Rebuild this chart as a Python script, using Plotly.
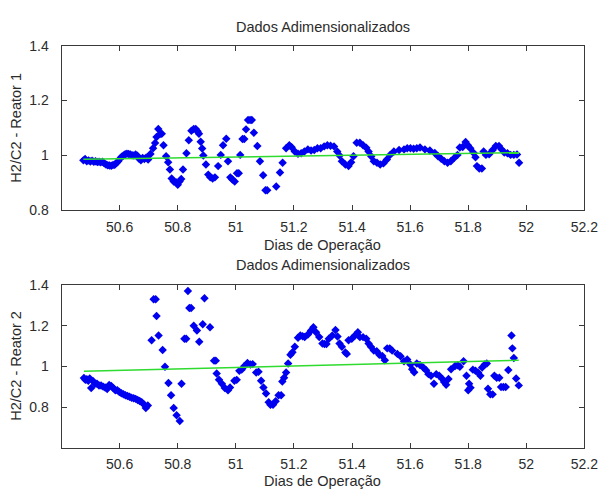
import plotly.graph_objects as go

# Reator 1 (top)
r1_x = [50.475,50.481,50.487,50.493,50.499,50.505,50.511,50.517,50.523,50.529,50.535,50.541,50.547,50.553,50.559,50.565,50.571,50.577,50.583,50.589,50.595,50.601,50.607,50.613,50.619,50.625,50.631,50.637,50.643,50.649,50.655,50.661,50.667,50.673,50.679,50.685,50.691,50.698,
        50.706,50.715,50.722,50.727,50.733,50.739,50.745,50.751,50.760,50.767,50.773,50.779,50.786,50.794,50.800,50.806,50.812,50.818,50.830,50.838,50.847,50.855,50.862,50.868,50.873,50.879,50.884,50.888,50.897,50.905,50.912,50.920,50.928,50.939,50.948,50.956,50.967,50.973,50.981,50.988,50.996,51.004,51.010,51.015,51.023,51.029,51.035,51.042,51.049,51.055,51.062,51.074,51.083,51.094,51.102,51.108,51.139,51.152,51.161,51.173,51.184,51.192,51.203,51.214,51.225,51.236,51.248,51.259,51.270,51.281,51.292,51.304,51.315,51.326,51.338,51.349,51.357,51.365,51.377,51.388,51.397,51.405,51.416,51.427,51.438,51.449,51.457,51.466,51.475,51.486,51.497,51.508,51.520,51.531,51.544,51.562,51.579,51.590,51.601,51.612,51.623,51.634,51.651,51.668,51.685,51.696,51.707,51.718,51.729,51.740,51.752,51.763,51.771,51.781,51.791,51.799,51.807,51.818,51.825,51.830,51.838,51.847,51.853,51.861,51.872,51.884,51.895,51.906,51.915,51.924,51.935,51.946,51.957,51.968,51.975]
r1_y = [0.982,0.987,0.979,0.982,0.978,0.981,0.977,0.979,0.976,0.977,0.975,0.977,0.971,0.967,0.964,0.963,0.962,0.965,0.966,0.972,0.979,0.988,0.995,1.000,1.004,1.006,1.005,1.003,1.001,1.000,1.003,0.999,0.988,0.982,0.991,0.987,0.992,0.985,
        1.005,1.026,1.045,1.067,1.096,1.078,1.079,1.037,0.997,0.975,0.949,0.916,0.905,0.902,0.893,0.905,0.914,0.949,1.008,1.055,1.090,1.096,1.096,1.088,1.079,1.050,1.025,1.000,0.967,0.930,0.920,0.916,0.920,0.961,1.002,1.037,1.061,0.979,0.920,0.912,0.905,0.935,0.935,1.002,1.060,1.060,1.095,1.129,1.129,1.129,1.083,1.034,0.979,0.928,0.873,0.873,0.887,0.938,0.973,1.026,1.037,1.030,1.014,1.006,1.008,1.014,1.022,1.018,1.020,1.026,1.026,1.033,1.037,1.035,1.033,1.014,1.000,0.979,0.967,0.961,0.975,0.997,1.046,1.046,1.037,1.028,1.014,0.997,0.979,0.973,0.967,0.971,0.985,1.002,1.014,1.020,1.022,1.026,1.026,1.024,1.026,1.029,1.022,1.018,1.009,0.997,0.988,0.979,0.973,0.979,0.991,1.002,1.029,1.031,1.049,1.037,1.026,1.010,0.993,0.961,0.952,0.952,1.014,1.002,1.004,1.020,1.034,1.034,1.022,1.011,1.008,1.002,1.002,1.003,0.973]

# Reator 2 (bottom)
r2_x = [50.477,50.482,50.487,50.492,50.497,50.502,50.508,50.515,50.522,50.529,50.536,50.543,50.550,50.557,50.564,50.571,50.578,50.585,50.592,50.599,50.606,50.613,50.620,50.627,50.634,50.641,50.648,50.655,50.662,50.669,50.676,50.683,50.690,50.697,
        50.710,50.717,50.724,50.727,50.734,50.748,50.756,50.768,50.777,50.786,50.796,50.807,50.813,50.823,50.829,50.835,50.840,50.846,50.855,50.866,50.874,50.886,50.892,50.911,50.925,50.931,50.934,50.942,50.952,50.962,50.973,50.980,50.995,51.003,51.012,51.020,51.029,51.040,51.050,51.058,51.070,51.078,51.087,51.095,51.104,51.113,51.119,51.128,51.137,51.147,51.156,51.160,51.166,51.173,51.180,51.188,51.195,51.203,51.214,51.222,51.230,51.237,51.248,51.259,51.267,51.276,51.287,51.298,51.305,51.312,51.320,51.332,51.343,51.350,51.357,51.365,51.377,51.382,51.388,51.399,51.410,51.420,51.427,51.438,51.449,51.457,51.465,51.475,51.485,51.494,51.504,51.513,51.521,51.530,51.538,51.556,51.567,51.579,51.590,51.601,51.607,51.614,51.623,51.634,51.646,51.655,51.663,51.672,51.682,51.690,51.700,51.711,51.717,51.724,51.732,51.741,51.755,51.764,51.771,51.784,51.794,51.800,51.803,51.808,51.816,51.825,51.834,51.842,51.848,51.857,51.864,51.868,51.876,51.884,51.890,51.898,51.907,51.913,51.921,51.929,51.938,51.949,51.952,51.957,51.965,51.974]
r2_y = [0.944,0.935,0.938,0.930,0.942,0.895,0.930,0.916,0.916,0.907,0.907,0.902,0.898,0.890,0.910,0.905,0.895,0.884,0.884,0.876,0.870,0.865,0.860,0.856,0.852,0.848,0.845,0.842,0.836,0.832,0.826,0.816,0.797,0.810,
        1.129,1.329,1.329,1.247,1.152,1.081,0.999,0.920,0.860,0.797,0.762,0.734,0.916,1.136,1.136,1.370,1.286,1.286,1.200,1.176,1.121,1.207,1.334,1.192,1.029,1.029,0.966,0.936,0.916,0.895,0.884,0.898,0.931,0.935,0.979,0.985,1.002,1.018,1.010,1.012,0.971,0.975,0.931,0.898,0.868,0.826,0.813,0.813,0.830,0.860,0.860,0.927,0.945,0.971,1.015,1.058,1.070,1.097,1.141,1.152,1.148,1.145,1.157,1.176,1.192,1.168,1.145,1.113,1.110,1.110,1.136,1.152,1.179,1.147,1.113,1.097,1.069,1.062,1.129,1.136,1.152,1.168,1.144,1.144,1.136,1.113,1.097,1.078,1.075,1.058,1.052,1.031,1.089,1.089,1.078,1.062,1.050,1.026,1.035,1.010,0.987,0.972,1.015,1.008,0.994,0.982,0.963,0.955,0.916,0.963,0.955,0.939,0.925,0.911,0.939,0.987,1.003,1.006,0.999,1.026,0.955,0.884,0.916,0.897,0.985,0.980,0.971,0.955,0.995,1.010,1.015,0.892,0.864,0.864,0.955,0.945,0.945,0.900,0.900,0.900,0.983,1.152,1.089,1.042,0.942,0.908]

# Linear fit endpoints (green lines)
fit1_x = [50.475, 51.975]
fit1_y = [0.986, 1.010]
fit2_x = [50.477, 51.974]
fit2_y = [0.977, 1.031]

x_ticks = [50.6, 50.8, 51, 51.2, 51.4, 51.6, 51.8, 52, 52.2]
x_ticktext = ["50.6", "50.8", "51", "51.2", "51.4", "51.6", "51.8", "52", "52.2"]
y1_ticks = [0.8, 1.0, 1.2, 1.4]
y1_ticktext = ["0.8", "1", "1.2", "1.4"]
y2_ticks = [0.8, 1.0, 1.2, 1.4]
y2_ticktext = ["0.8", "1", "1.2", "1.4"]

FONT = "Liberation Sans, Arial, sans-serif"
TXT = "#2b2b2b"
BLUE = "#0000f0"
GREEN = "#2edb2e"
FS = 14.5
FT = 14

fig = go.Figure()
fig.add_trace(go.Scatter(x=r1_x, y=r1_y, mode="markers", xaxis="x", yaxis="y",
                         marker=dict(symbol="diamond", size=6.5, color=BLUE), showlegend=False))
fig.add_trace(go.Scatter(x=fit1_x, y=fit1_y, mode="lines", xaxis="x", yaxis="y",
                         line=dict(color=GREEN, width=1.5), showlegend=False))
fig.add_trace(go.Scatter(x=r2_x, y=r2_y, mode="markers", xaxis="x2", yaxis="y2",
                         marker=dict(symbol="diamond", size=6.5, color=BLUE), showlegend=False))
fig.add_trace(go.Scatter(x=fit2_x, y=fit2_y, mode="lines", xaxis="x2", yaxis="y2",
                         line=dict(color=GREEN, width=1.5), showlegend=False))

xd = [63/616, 598/616]
axcommon = dict(showline=True, linecolor="#3a3a3a", linewidth=1, mirror="ticks",
                ticks="inside", ticklen=5, tickcolor="#3a3a3a", showgrid=False,
                zeroline=False, tickfont=dict(family=FONT, size=FT, color=TXT))

fig.update_layout(
    width=616, height=497, margin=dict(l=0, r=0, t=0, b=0),
    paper_bgcolor="white", plot_bgcolor="white",
    xaxis=dict(domain=xd, range=[50.4, 52.2], tickvals=x_ticks, ticktext=x_ticktext,
               anchor="y", ticklabelstandoff=4, **axcommon),
    yaxis=dict(domain=[1-209/497, 1-39/497], range=[0.8, 1.4], tickvals=y1_ticks,
               ticktext=y1_ticktext, anchor="x", ticklabelstandoff=9, **axcommon),
    xaxis2=dict(domain=xd, range=[50.4, 52.2], tickvals=x_ticks, ticktext=x_ticktext,
                anchor="y2", ticklabelstandoff=3, **axcommon),
    yaxis2=dict(domain=[1-455/497, 1-286/497], range=[0.6, 1.4], tickvals=y2_ticks,
                ticktext=y2_ticktext, anchor="x2", ticklabelstandoff=9, **axcommon),
)

ann = dict(xref="paper", yref="paper", showarrow=False, xanchor="center", yanchor="middle",
           font=dict(family=FONT, size=FS, color=TXT))
cx = (63 + 598) / 2 / 616
fig.add_annotation(x=cx, y=1-20/497, text="Dados Adimensionalizados", **ann)
fig.add_annotation(x=cx, y=1-266/497, text="Dados Adimensionalizados", **ann)
fig.add_annotation(x=cx, y=1-245/497, text="Dias de Operação", **ann)
fig.add_annotation(x=cx, y=1-488.5/497, text="Dias de Operação", **ann)
fig.add_annotation(x=16/616, y=1-124/497, text="H2/C2 - Reator 1", textangle=-90, **ann)
fig.add_annotation(x=16/616, y=1-370/497, text="H2/C2 - Reator 2", textangle=-90, **ann)

fig.write_html("out.html")
